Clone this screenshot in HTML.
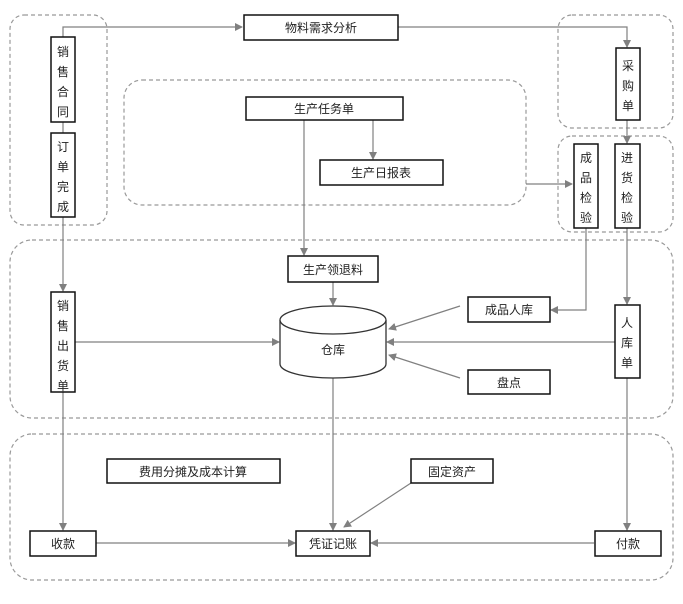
<!DOCTYPE html>
<html><head><meta charset="utf-8"><style>
html,body{margin:0;padding:0;background:#fff;}
svg{display:block;}
text{font-family:"Liberation Sans","Noto Sans CJK SC",sans-serif;font-size:12px;fill:#222;}
</style></head><body>
<svg width="683" height="604" viewBox="0 0 683 604" xmlns="http://www.w3.org/2000/svg">
<defs>
<marker id="a" markerWidth="8" markerHeight="8" refX="7" refY="4" orient="auto" markerUnits="userSpaceOnUse">
<path d="M0,0 L8,4 L0,8 z" fill="#808080"/></marker>
</defs>
<g fill="none" stroke="#999" stroke-width="1.2" stroke-dasharray="4,3">
<rect x="10" y="15" width="97" height="210" rx="14"/>
<rect x="558" y="15" width="115" height="113" rx="14"/>
<rect x="558" y="136" width="115" height="96" rx="14"/>
<rect x="124" y="80" width="402" height="125" rx="18"/>
<rect x="10" y="240" width="663" height="178" rx="22"/>
<rect x="10" y="434" width="663" height="146" rx="22"/>
</g>
<g fill="none" stroke="#808080" stroke-width="1.2">
<path d="M63,37 V27 H242" marker-end="url(#a)"/>
<path d="M398,27 H627 V47" marker-end="url(#a)"/>
<path d="M627,120 V143" marker-end="url(#a)"/>
<path d="M526,184 H572" marker-end="url(#a)"/>
<path d="M373,120 V159" marker-end="url(#a)"/>
<path d="M304,120 V255" marker-end="url(#a)"/>
<path d="M333,282 V305" marker-end="url(#a)"/>
<path d="M63,217 V291" marker-end="url(#a)"/>
<path d="M63,122 V133"/>
<path d="M586,228 V310 H551" marker-end="url(#a)"/>
<path d="M460,306 L389,329" marker-end="url(#a)"/>
<path d="M627,228 V304" marker-end="url(#a)"/>
<path d="M615,342 H387" marker-end="url(#a)"/>
<path d="M460,378 L389,355" marker-end="url(#a)"/>
<path d="M75,342 H279" marker-end="url(#a)"/>
<path d="M63,392 V530" marker-end="url(#a)"/>
<path d="M627,378 V530" marker-end="url(#a)"/>
<path d="M333,378 V530" marker-end="url(#a)"/>
<path d="M411,483 L344,527" marker-end="url(#a)"/>
<path d="M96,543 H295" marker-end="url(#a)"/>
<path d="M594,543 H371" marker-end="url(#a)"/>
</g>
<g fill="#fff" stroke="#111" stroke-width="1.5">
<rect x="244" y="15" width="154" height="25"/>
<rect x="51" y="37" width="24" height="85"/>
<rect x="51" y="133" width="24" height="84"/>
<rect x="616" y="48" width="24" height="72"/>
<rect x="574" y="144" width="24" height="84"/>
<rect x="615" y="144" width="25" height="84"/>
<rect x="246" y="97" width="157" height="23"/>
<rect x="320" y="160" width="123" height="25"/>
<rect x="288" y="256" width="90" height="26"/>
<rect x="468" y="297" width="82" height="25"/>
<rect x="615" y="305" width="25" height="73"/>
<rect x="468" y="370" width="82" height="24"/>
<rect x="51" y="292" width="24" height="100"/>
<rect x="107" y="459" width="173" height="24"/>
<rect x="411" y="459" width="82" height="24"/>
<rect x="30" y="531" width="66" height="25"/>
<rect x="296" y="531" width="74" height="25"/>
<rect x="595" y="531" width="66" height="25"/>
</g>
<g fill="#fff" stroke="#333" stroke-width="1.3">
<path d="M280,320 V364 A53,14 0 0 0 386,364 V320"/>
<ellipse cx="333" cy="320" rx="53" ry="14"/>
</g>
<g text-anchor="middle">
<text x="321" y="32">物料需求分析</text>
<text x="63" y="56">销</text><text x="63" y="76">售</text><text x="63" y="96">合</text><text x="63" y="116">同</text>
<text x="63" y="151">订</text><text x="63" y="171">单</text><text x="63" y="191">完</text><text x="63" y="211">成</text>
<text x="628" y="70">采</text><text x="628" y="90">购</text><text x="628" y="110">单</text>
<text x="586" y="162">成</text><text x="586" y="182">品</text><text x="586" y="202">检</text><text x="586" y="222">验</text>
<text x="627" y="162">进</text><text x="627" y="182">货</text><text x="627" y="202">检</text><text x="627" y="222">验</text>
<text x="324" y="113">生产任务单</text>
<text x="381" y="177">生产日报表</text>
<text x="333" y="274">生产领退料</text>
<text x="333" y="354">仓库</text>
<text x="509" y="314">成品人库</text>
<text x="509" y="387">盘点</text>
<text x="627" y="327">人</text><text x="627" y="347">库</text><text x="627" y="367">单</text>
<text x="63" y="310">销</text><text x="63" y="330">售</text><text x="63" y="350">出</text><text x="63" y="370">货</text><text x="63" y="390">单</text>
<text x="193" y="476">费用分摊及成本计算</text>
<text x="452" y="476">固定资产</text>
<text x="63" y="548">收款</text>
<text x="333" y="548">凭证记账</text>
<text x="628" y="548">付款</text>
</g>
</svg>
</body></html>
